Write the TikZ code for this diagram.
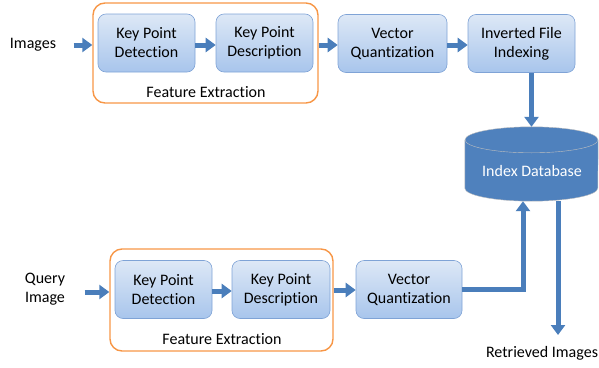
\documentclass[tikz,border=0pt]{standalone}
\usepackage{fontspec}
\setmainfont{Carlito}[Ligatures=NoCommon]
\usetikzlibrary{arrows.meta}
\definecolor{boxtop}{HTML}{DDE8F6}
\definecolor{boxbot}{HTML}{A8C5EC}
\definecolor{boxline}{HTML}{7FA3D6}
\definecolor{fecol}{HTML}{F79646}
\definecolor{dbblue}{HTML}{4F81BD}
\definecolor{arrcol}{HTML}{4A7EBB}
\begin{document}
\begin{tikzpicture}[x=1pt,y=1pt,
  every node/.style={font=\fontsize{16}{19}\selectfont},
  step box/.style={draw=boxline,semithick,rounded corners=8pt,top color=boxtop,bottom color=boxbot,
    align=center,minimum height=58pt,inner sep=2pt},
  fe box/.style={draw=fecol,line width=1.4pt,rounded corners=12pt},
  flow/.style={arrcol,line width=5pt,-{Triangle[width=14pt,length=10pt]}}]
\useasboundingbox (0,0) rectangle (599,-367);
\node (imgs) at (33,-45) {Images};
\node[fe box,minimum width=225pt,minimum height=100pt] (fe1) at (205.5,-53) {};
\node[step box,minimum width=97pt] (kpd1) at (146.5,-43) {Key Point\\Detection};
\node[step box,minimum width=97pt] (kpdesc1) at (264.5,-43) {Key Point\\Description};
\node (fel1) at (206,-92) {Feature Extraction};
\node[step box,minimum width=109pt] (vq1) at (392.5,-43.5) {Vector\\Quantization};
\node[step box,minimum width=107pt] (ifi) at (521.5,-43.5) {Inverted File\\Indexing};
\node[minimum width=133pt,minimum height=74pt] (db) at (531.5,-164) {};
\fill[dbblue] (db.north west) ++(0,-13) -- ([yshift=13]db.south west)
  arc[start angle=180,end angle=360,x radius=66.5,y radius=13] -- ([yshift=-13]db.north east) -- cycle;
\draw[gray!50,fill=dbblue] ([yshift=-13]db.north) ellipse[x radius=66.5,y radius=13];
\draw[gray!50] ([yshift=-13]db.north west) -- ([yshift=13]db.south west)
  arc[start angle=180,end angle=360,x radius=66.5,y radius=13] -- ([yshift=-13]db.north east);
\node[white] (dbl) at (532,-171) {Index Database};
\node[align=center] (qimg) at (45,-289) {Query\\Image};
\node[fe box,minimum width=223pt,minimum height=102pt] (fe2) at (221.5,-300) {};
\node[step box,minimum width=97pt] (kpd2) at (163.5,-289.5) {Key Point\\Detection};
\node[step box,minimum width=98pt] (kpdesc2) at (281,-289.5) {Key Point\\Description};
\node (fel2) at (222,-339) {Feature Extraction};
\node[step box,minimum width=106pt] (vq2) at (409,-289.5) {Vector\\Quantization};
\node (ret) at (542,-353) {Retrieved Images};
\coordinate (out) at (558,-335);
\draw[flow] ([xshift=14]imgs.east) -- (fe1.west |- imgs.east);
\draw[flow] (kpd1.east |- imgs.east) -- (kpdesc1.west |- imgs.east);
\draw[flow] (fe1.east |- imgs.east) -- (vq1.west |- imgs.east);
\draw[flow] (vq1.east |- imgs.east) -- (ifi.west |- imgs.east);
\draw[flow] (db.north |- ifi.south) -- (db.north);
\draw[flow] ([xshift=16]qimg.east |- 0,-292) -- (fe2.west |- 0,-292);
\draw[flow] (kpd2.east |- 0,-291) -- (kpdesc2.west |- 0,-291);
\draw[flow] (fe2.east |- 0,-290) -- (vq2.west |- 0,-290);
\draw[flow] (vq2.east |- 0,-289) -| ([xshift=-8.5]db.south);
\draw[flow] ([xshift=26.5]db.south) -- (out);
\end{tikzpicture}
\end{document}
